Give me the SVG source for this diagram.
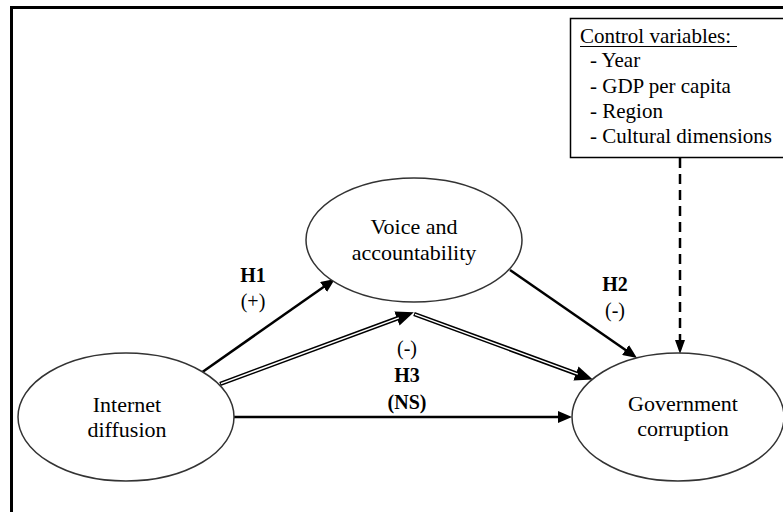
<svg xmlns="http://www.w3.org/2000/svg" width="783" height="512" viewBox="0 0 783 512">
<defs>
<style>
.t{font-family:"Liberation Serif","Times New Roman",serif;fill:#000}
.n{font-size:22px;text-anchor:middle}
.c{font-size:21px}
.b{font-size:20px;font-weight:bold;text-anchor:middle}
.l{font-size:20px;text-anchor:middle}
.el{fill:#fff;stroke:#333;stroke-width:1.5}
.s{fill:none;stroke:#000;stroke-width:2.5}
.dbo{fill:none;stroke:#000;stroke-width:4.5}
.dbi{fill:none;stroke:#fff;stroke-width:1.5}
</style>
<marker id="ah" markerUnits="userSpaceOnUse" markerWidth="14" markerHeight="12" viewBox="0 0 14 12" refX="4" refY="6" orient="auto">
<path d="M0,0 L14,6 L0,12 z" fill="#000"/>
</marker>
<marker id="ahd" markerUnits="userSpaceOnUse" markerWidth="14" markerHeight="10" viewBox="0 0 14 10" refX="4" refY="5" orient="auto">
<path d="M0,0 L14,5 L0,10 z" fill="#000"/>
</marker>
<marker id="ahb" markerUnits="userSpaceOnUse" markerWidth="18" markerHeight="15" viewBox="0 0 18 15" refX="4" refY="7.5" orient="auto">
<path d="M0,0 L18,7.5 L0,15 z" fill="#000"/>
</marker>
</defs>
<rect width="783" height="512" fill="#fff"/>
<path d="M11.5,512 L11.5,7.5 L790,7.5" fill="none" stroke="#000" stroke-width="3"/>

<g id="connectors">
<path class="s" d="M201,373 L326.8,284.7" marker-end="url(#ah)"/>
<path class="s" d="M510,270 L628.8,352.3" marker-end="url(#ah)"/>
<path class="s" d="M234,417 L562,417" marker-end="url(#ah)"/>
<path d="M680,158 L680,344" fill="none" stroke="#000" stroke-width="2.5" stroke-dasharray="10,6" marker-end="url(#ahd)"/>
<path class="dbo" d="M220,384 L400.7,317.2" marker-end="url(#ahb)"/>
<path class="dbi" d="M221,383.6 L398.8,317.9"/>
<path class="dbo" d="M414,314 L579.7,374.8" marker-end="url(#ahb)"/>
<path class="dbi" d="M415,314.4 L577.8,374.1"/>
</g>

<g id="control">
<rect x="570.5" y="18.5" width="220" height="139" fill="#fff" stroke="#000" stroke-width="1.5"/>
<text class="t c" x="580" y="43">Control variables:</text>
<line x1="580" y1="46.5" x2="737" y2="46.5" stroke="#000" stroke-width="1.2"/>
<text class="t c" x="590" y="67">- Year</text>
<text class="t c" x="590" y="93">- GDP per capita</text>
<text class="t c" x="590" y="118">- Region</text>
<text class="t c" x="590" y="143">- Cultural dimensions</text>
</g>

<g id="voice">
<ellipse class="el" cx="414" cy="240" rx="108" ry="62"/>
<text class="t n" x="414" y="234">Voice and</text>
<text class="t n" x="414" y="260">accountability</text>
</g>

<g id="internet">
<ellipse class="el" cx="126" cy="417" rx="108" ry="64"/>
<text class="t n" x="127" y="412">Internet</text>
<text class="t n" x="127" y="437">diffusion</text>
</g>

<g id="government">
<ellipse class="el" cx="678" cy="417" rx="106" ry="64"/>
<text class="t n" x="683" y="411">Government</text>
<text class="t n" x="683" y="436">corruption</text>
</g>

<g id="labels">
<text class="t b" x="253" y="282">H1</text>
<text class="t l" x="253" y="308">(+)</text>
<text class="t b" x="615" y="291">H2</text>
<text class="t l" x="615" y="317">(-)</text>
<text class="t l" x="407" y="355">(-)</text>
<text class="t b" x="407" y="382">H3</text>
<text class="t b" x="407" y="409">(NS)</text>
</g>
</svg>
